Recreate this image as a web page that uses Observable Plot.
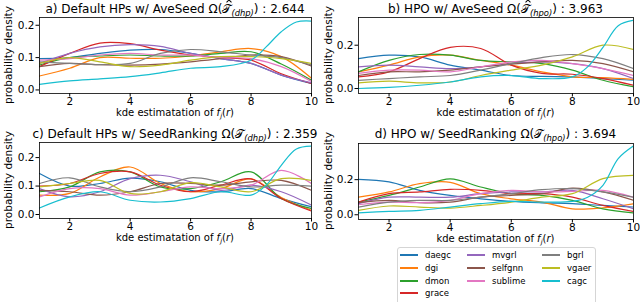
<!DOCTYPE html>
<html><head><meta charset="utf-8">
<script src="https://cdn.jsdelivr.net/npm/d3@7"></script>
<script src="https://cdn.jsdelivr.net/npm/@observablehq/plot@0.6"></script>
<style>
body{margin:0;background:#fff;font-family:"DejaVu Sans",sans-serif;color:#000}
#root{position:relative;width:640px;height:302px;overflow:hidden;background:#fff}
.abs{position:absolute;white-space:nowrap}
.title{font-size:12px;line-height:14px;text-align:center}
.xlab{font-size:10px;line-height:12px;text-align:center}
.ylab{font-size:10.5px;line-height:12px;text-align:center;transform-origin:0 0;transform:rotate(-90deg)}
sub{font-size:70%;vertical-align:-0.3em;line-height:0}
.hat{position:relative;display:inline-block}
.hat::after{content:"";position:absolute;left:5px;top:-2px;width:3px;height:3px;border-left:1px solid #000;border-top:1px solid #000;transform:rotate(45deg)}
.legend{border:1px solid #d5d5d5;border-radius:3px;background:#fff}
.lgtext{font-size:8.5px;line-height:12px}
</style></head>
<body><div id="root"></div>
<script>
const series = ["daegc","dgi","dmon","grace","mvgrl","selfgnn","sublime","bgrl","vgaer","cagc"];
const colors = ["#1f77b4","#ff7f0e","#2ca02c","#d62728","#9467bd","#8c564b","#e377c2","#7f7f7f","#bcbd22","#17becf"];
const xGrid = [1,2,3,4,5,6,7,8,9,10];
const xGridCagc = [1,2,3,4,5,6,7,8,8.5,9,9.5,10];
const xTicks = [2,4,6,8,10];

// values in series order (cagc uses xGridCagc)
const valuesA = [
  [0.097,0.100,0.113,0.123,0.125,0.113,0.097,0.082,0.046,0.020],
  [0.043,0.067,0.100,0.098,0.098,0.105,0.118,0.128,0.103,0.036],
  [0.077,0.100,0.105,0.108,0.105,0.105,0.113,0.118,0.080,0.030],
  [0.072,0.113,0.145,0.143,0.123,0.108,0.100,0.092,0.050,0.020],
  [0.082,0.113,0.133,0.140,0.135,0.113,0.097,0.082,0.046,0.022],
  [0.072,0.082,0.078,0.077,0.080,0.087,0.097,0.108,0.103,0.074],
  [0.092,0.097,0.108,0.113,0.108,0.108,0.100,0.097,0.072,0.026],
  [0.087,0.082,0.078,0.082,0.113,0.125,0.118,0.108,0.100,0.077],
  [0.082,0.100,0.087,0.072,0.077,0.092,0.103,0.103,0.097,0.082],
  [0.017,0.028,0.034,0.041,0.053,0.067,0.072,0.092,0.133,0.180,0.210,0.213]
];
const valuesB = [
  [0.138,0.154,0.146,0.108,0.085,0.060,0.056,0.054,0.046,0.038],
  [0.077,0.108,0.146,0.154,0.130,0.108,0.077,0.054,0.050,0.042],
  [0.077,0.130,0.157,0.154,0.130,0.123,0.115,0.085,0.038,0.008],
  [0.054,0.077,0.138,0.190,0.185,0.108,0.070,0.066,0.046,0.015],
  [0.100,0.108,0.100,0.092,0.100,0.115,0.123,0.115,0.092,0.046],
  [0.060,0.077,0.077,0.085,0.100,0.112,0.123,0.130,0.115,0.077],
  [0.070,0.085,0.085,0.077,0.100,0.123,0.130,0.115,0.092,0.060],
  [0.038,0.046,0.054,0.060,0.085,0.115,0.143,0.157,0.138,0.092],
  [0.026,0.034,0.026,0.030,0.060,0.085,0.108,0.146,0.200,0.180],
  [0.000,0.005,0.015,0.030,0.054,0.060,0.046,0.054,0.100,0.190,0.290,0.315]
];
const valuesC = [
  [0.144,0.100,0.109,0.128,0.115,0.085,0.080,0.091,0.056,0.027],
  [0.068,0.074,0.132,0.167,0.109,0.080,0.091,0.125,0.060,0.015],
  [0.080,0.097,0.150,0.150,0.097,0.091,0.115,0.150,0.056,0.021],
  [0.100,0.109,0.144,0.150,0.103,0.080,0.103,0.125,0.056,0.012],
  [0.091,0.062,0.080,0.126,0.138,0.115,0.085,0.103,0.080,0.033],
  [0.085,0.080,0.068,0.080,0.109,0.109,0.103,0.115,0.120,0.085],
  [0.062,0.091,0.091,0.068,0.080,0.097,0.091,0.103,0.155,0.109],
  [0.109,0.129,0.097,0.080,0.097,0.129,0.115,0.097,0.103,0.100],
  [0.097,0.109,0.120,0.074,0.080,0.112,0.097,0.080,0.126,0.120],
  [0.023,0.062,0.080,0.050,0.044,0.056,0.080,0.068,0.103,0.173,0.230,0.240]
];
const valuesD = [
  [0.202,0.187,0.139,0.110,0.091,0.076,0.068,0.063,0.053,0.044],
  [0.100,0.130,0.177,0.185,0.120,0.091,0.072,0.034,0.040,0.063],
  [0.072,0.110,0.158,0.205,0.158,0.120,0.110,0.082,0.034,0.011],
  [0.072,0.120,0.130,0.145,0.139,0.120,0.120,0.100,0.053,0.019],
  [0.063,0.100,0.100,0.100,0.120,0.130,0.130,0.139,0.091,0.034],
  [0.069,0.082,0.069,0.072,0.100,0.110,0.120,0.152,0.130,0.082],
  [0.057,0.072,0.069,0.082,0.120,0.139,0.130,0.133,0.139,0.100],
  [0.044,0.072,0.082,0.082,0.100,0.120,0.143,0.149,0.130,0.100],
  [0.025,0.050,0.044,0.038,0.053,0.072,0.100,0.120,0.206,0.225],
  [0.011,0.019,0.025,0.044,0.063,0.076,0.072,0.076,0.100,0.168,0.320,0.392]
];
const yTicksA = [0, 0.1, 0.2];
const yTicksB = [0, 0.2];
const yTicksC = [0, 0.1, 0.2];
const yTicksD = [0, 0.2];
const titles = [
  'a) Default HPs w/ AveSeed Ω(<span class="hat">𝒯</span><sub><i>(dhp)</i></sub>) : 2.644',
  'b) HPO w/ AveSeed Ω(<span class="hat">𝒯</span><sub><i>(hpo)</i></sub>) : 3.963',
  'c) Default HPs w/ SeedRanking Ω(𝒯<sub><i>(dhp)</i></sub>) : 2.359',
  'd) HPO w/ SeedRanking Ω(𝒯<sub><i>(hpo)</i></sub>) : 3.694'
];
const xLabel = 'kde estimatation of <i>f<sub>j</sub></i>(<i>r</i>)';
const yLabel = 'probability density';

const root = document.getElementById("root");

function rows(values) {
  const out = [];
  values.forEach((arr, i) => {
    const grid = series[i] === "cagc" ? xGridCagc : xGrid;
    arr.forEach((v, j) => out.push({x: grid[j], y: v, s: series[i]}));
  });
  return out;
}

const panels = [
  {values: valuesA, yTicks: yTicksA, yDomain: [-0.011, 0.224], left: 0, top: 0, mL: 39, mR: 9, mT: 17, mB: 32},
  {values: valuesB, yTicks: yTicksB, yDomain: [-0.023, 0.328], left: 320, top: 0, mL: 38, mR: 7, mT: 17, mB: 32},
  {values: valuesC, yTicks: yTicksC, yDomain: [-0.014, 0.253], left: 0, top: 125, mL: 39, mR: 9, mT: 17, mB: 32},
  {values: valuesD, yTicks: yTicksD, yDomain: [-0.027, 0.406], left: 320, top: 125, mL: 38, mR: 7, mT: 18, mB: 31}
];

panels.forEach((p, k) => {
  const W = 320, H = 125;
  const svg = Plot.plot({
    width: W, height: H,
    marginLeft: p.mL, marginRight: p.mR, marginTop: p.mT, marginBottom: p.mB,
    style: {fontFamily: "DejaVu Sans", fontSize: "10.5px", color: "black", background: "transparent", overflow: "visible"},
    x: {domain: [1, 10]},
    y: {domain: p.yDomain},
    color: {domain: series, range: colors},
    marks: [
      Plot.line(rows(p.values), {x: "x", y: "y", stroke: "s", z: "s", curve: "catmull-rom", strokeWidth: 1.2, clip: true}),
      Plot.frame({stroke: "black", strokeWidth: 0.8}),
      Plot.axisX({ticks: xTicks, tickSize: 3.5, tickPadding: 0.5, label: null, fontSize: 10.5, tickFormat: d3.format("d")}),
      Plot.axisY({ticks: p.yTicks, tickSize: 3.5, tickPadding: 1.5, label: null, fontSize: 10.5, tickFormat: d3.format(".1f")})
    ]
  });
  svg.style.position = "absolute";
  svg.style.left = p.left + "px";
  svg.style.top = p.top + "px";
  root.appendChild(svg);

  const x0 = p.left + p.mL, x1 = p.left + W - p.mR;
  const y0 = p.top + p.mT, y1 = p.top + H - p.mB;
  const cx = (x0 + x1) / 2;

  const t = document.createElement("div");
  t.className = "abs title";
  t.innerHTML = titles[k];
  t.style.left = (cx - 160) + "px";
  t.style.width = "320px";
  t.style.top = (p.top + 2) + "px";
  root.appendChild(t);

  const xl = document.createElement("div");
  xl.className = "abs xlab";
  xl.innerHTML = xLabel;
  xl.style.left = (cx - 100) + "px";
  xl.style.width = "200px";
  xl.style.top = (y1 + 14) + "px";
  root.appendChild(xl);

  const yl = document.createElement("div");
  yl.className = "abs ylab";
  yl.textContent = yLabel;
  const cy = (y0 + y1) / 2;
  yl.style.width = "130px";
  yl.style.left = (p.left + 2) + "px";
  yl.style.top = (cy + 65) + "px";
  root.appendChild(yl);
});

// legend
const lg = document.createElement("div");
lg.className = "abs legend";
lg.style.left = "397px"; lg.style.top = "247px"; lg.style.width = "197px"; lg.style.height = "60px";
root.appendChild(lg);
const colLineX = [400, 467, 542];
const colTextX = [425, 492, 567];
const rowY = [255, 268, 281, 293];
const layout = [[0,0],[0,1],[0,2],[0,3],[1,0],[1,1],[1,2],[2,0],[2,1],[2,2]];
series.forEach((s, i) => {
  const [c, r] = layout[i];
  const ln = document.createElement("div");
  ln.className = "abs";
  ln.style.left = colLineX[c] + "px";
  ln.style.top = (rowY[r] - 0.75) + "px";
  ln.style.width = "18px"; ln.style.height = "1.5px";
  ln.style.background = colors[i];
  root.appendChild(ln);
  const tx = document.createElement("div");
  tx.className = "abs lgtext";
  tx.textContent = s;
  tx.style.left = colTextX[c] + "px";
  tx.style.top = (rowY[r] - 6.5) + "px";
  root.appendChild(tx);
});
</script>
</body></html>
